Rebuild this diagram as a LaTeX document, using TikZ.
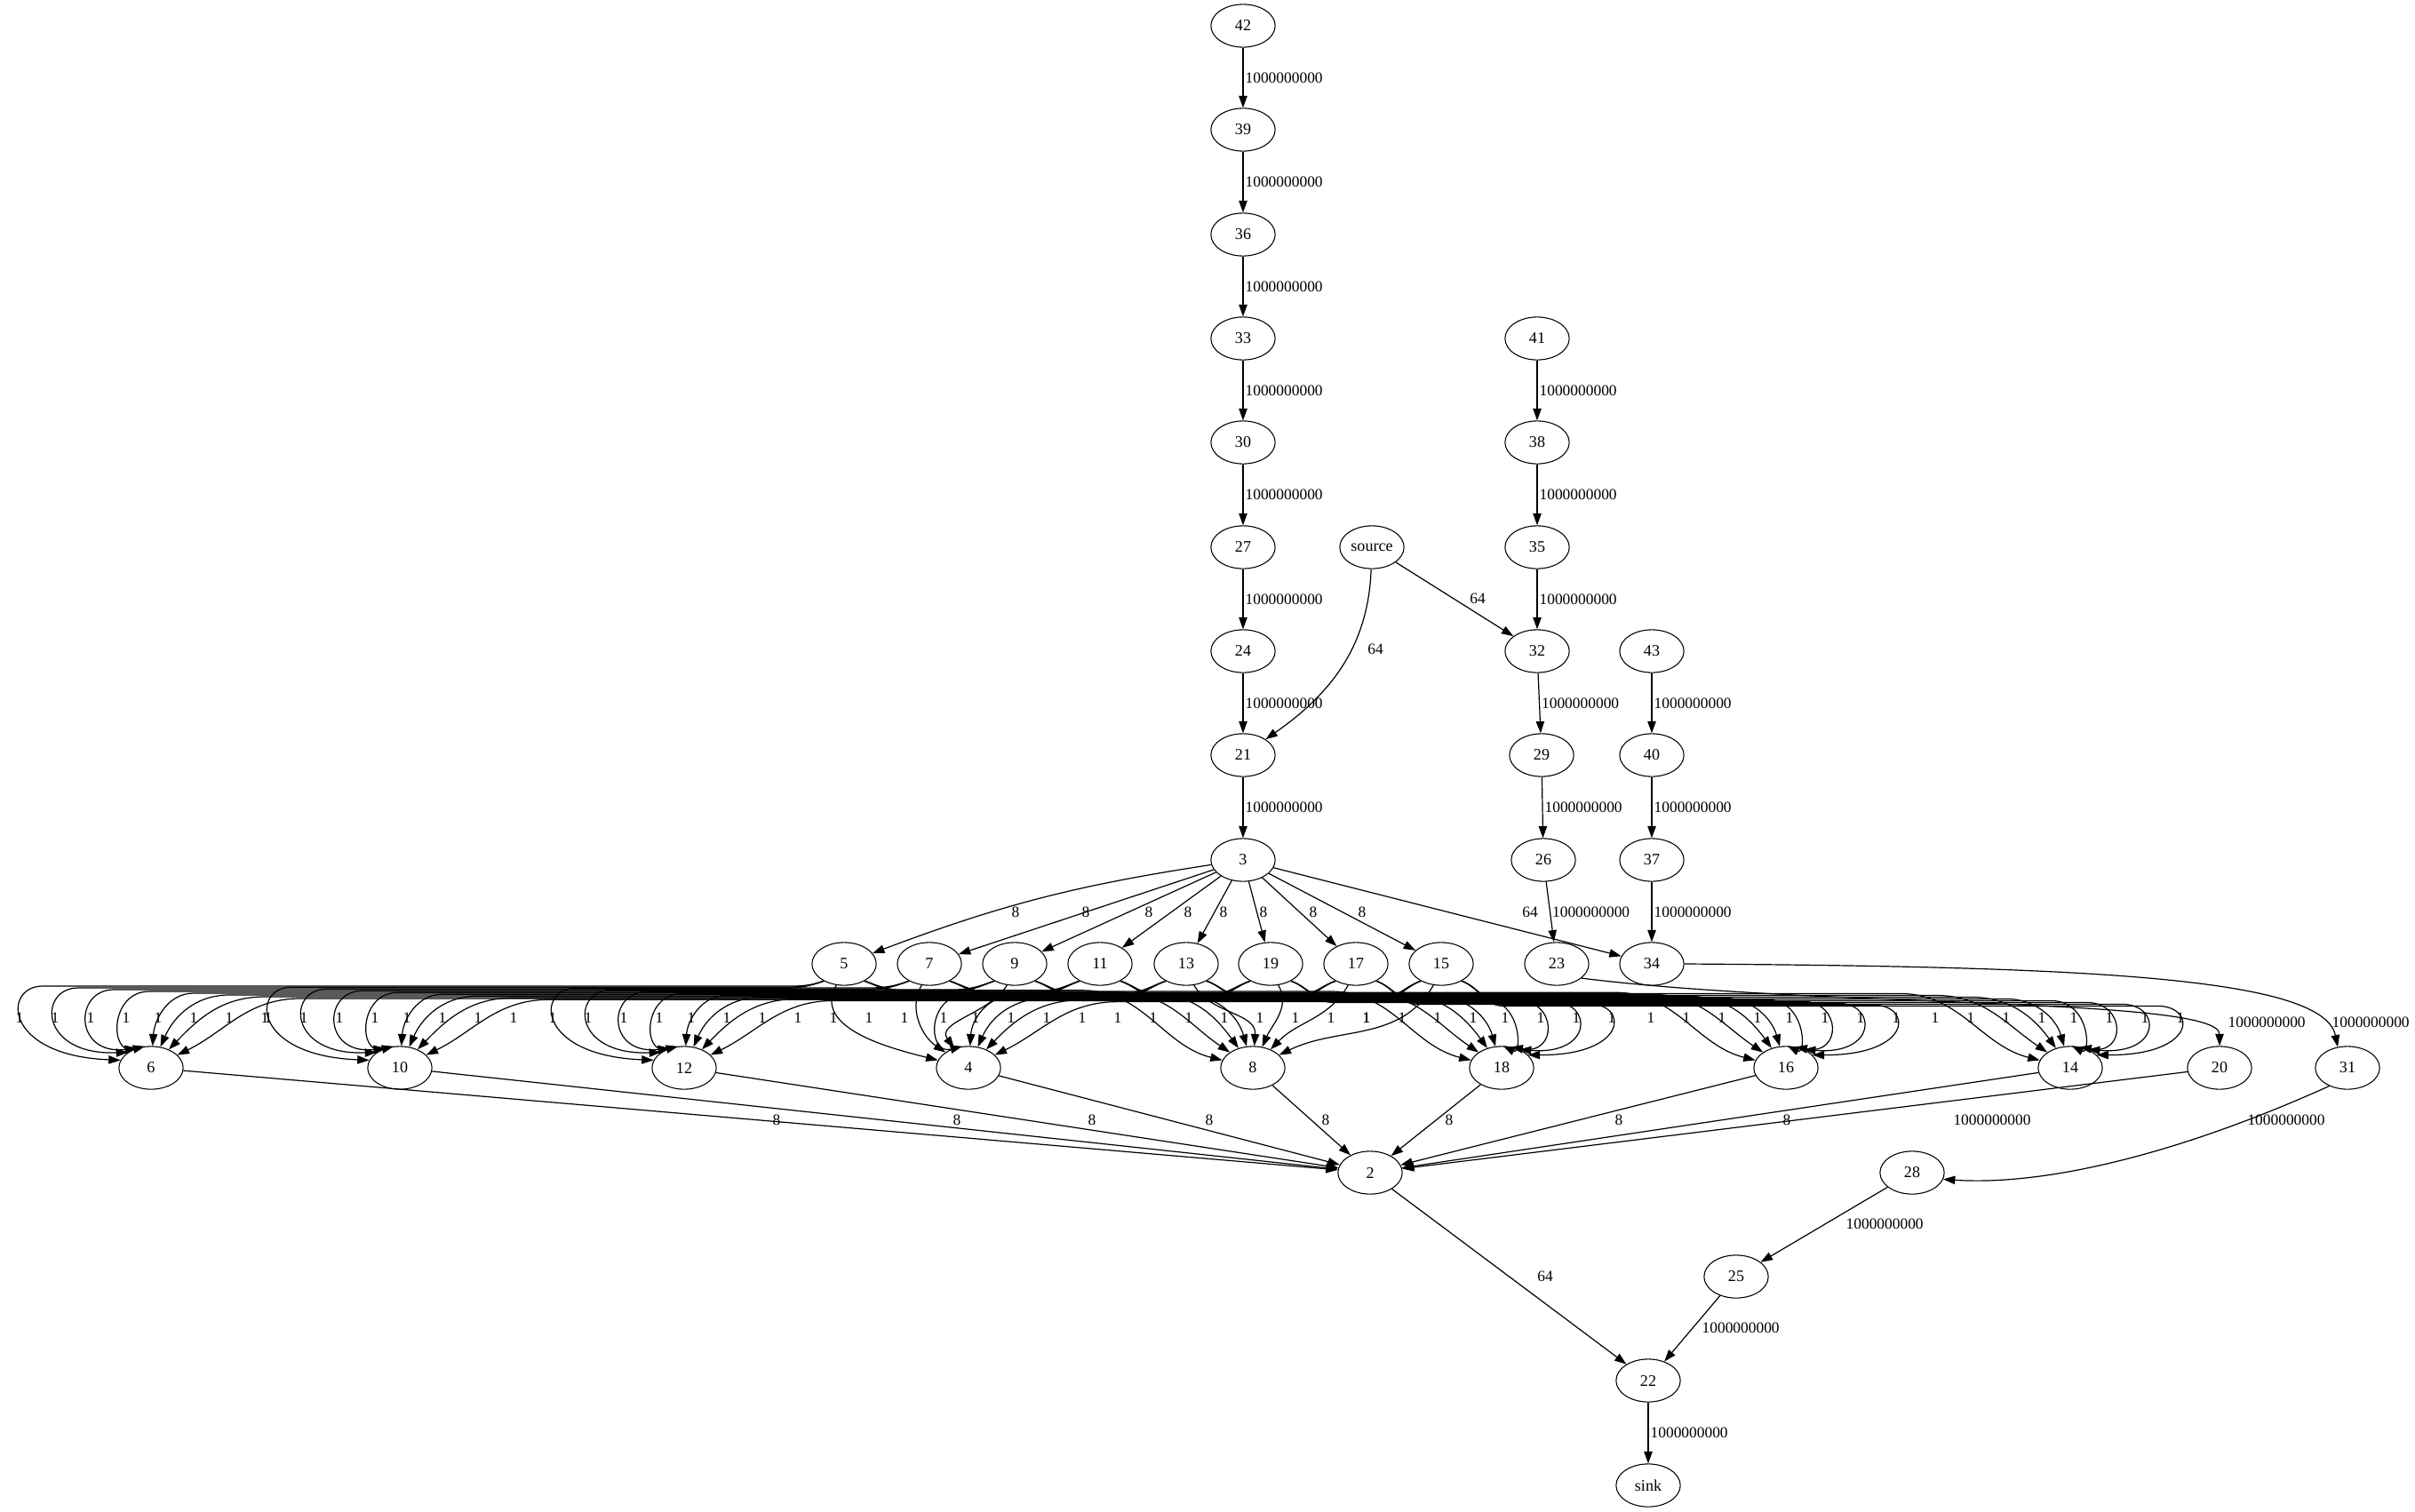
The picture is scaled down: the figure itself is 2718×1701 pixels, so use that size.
\documentclass[tikz,border=0pt]{standalone}
\usepackage{fontspec}
\setmainfont{Liberation Serif}
\usetikzlibrary{shapes.geometric,arrows.meta}

\tikzset{
  vtx/.style={draw,line width=0.8pt,ellipse,minimum width=54pt,minimum height=36pt,inner sep=0pt,font=\fontsize{13.5}{15}\selectfont},
  flow/.style={line width=0.9pt,-{Triangle[length=10pt,width=7pt]}},
  wt/.style={inner sep=1.5pt,font=\fontsize{13}{15}\selectfont}
}

\begin{document}
\begin{tikzpicture}[x=0.02625cm,y=0.02625cm]
\useasboundingbox (0,0) rectangle (2718,-1701);
% nodes : name/x/y (y counted downwards)
\foreach \n/\x/\y in {42/1399/29,39/1399/146,36/1399/264,33/1399/381,30/1399/498,27/1399/616,24/1399/733,21/1399/850,3/1399/968,
  source/1544/616,41/1730/381,38/1730/498,35/1730/616,32/1730/733,29/1735/850,26/1737/968,23/1752/1085,
  43/1859/733,40/1859/850,37/1859/968,34/1859/1085,
  5/950/1085,7/1046/1085,9/1142/1085,11/1238/1085,13/1335/1085,19/1430/1085,17/1526/1085,15/1622/1085,
  6/170/1202,10/450/1202,12/770/1202,4/1090/1202,8/1410/1202,18/1690/1202,16/2010/1202,14/2330/1202,20/2498/1202,31/2642/1202,
  2/1542/1320,28/2152/1320,25/1954/1437,22/1855/1554,sink/1855/1672}
  \node[vtx] (n\n) at (\x,-\y) {\n};

% straight chains
\foreach \u/\v in {42/39,39/36,36/33,33/30,30/27,27/24,24/21,21/3,41/38,38/35,35/32,32/29,29/26,26/23,43/40,40/37,37/34,22/sink}
  \draw[flow] (n\u) -- (n\v) node[wt,midway,right] {1000000000};

\draw[flow] (nsource) to[out=-92,in=35] (n21) node[wt] at (1548,-731) {64};
\draw[flow] (nsource) -- (n32) node[wt] at (1663,-674) {64};

\draw[flow] (n3) to[bend right=6] (n5) node[wt] at (1143,-1027) {8};
\foreach \v/\lx in {7/1222,9/1293,11/1337,13/1377,19/1422,17/1478,15/1533}
  \draw[flow] (n3) -- (n\v) node[wt] at (\lx,-1027) {8};
\draw[flow] (n3) -- (n34) node[wt] at (1722,-1027) {64};

% the 8 x 8 block of unit edges
\foreach \t/\tn/\tx in {0/5/950,1/7/1046,2/9/1142,3/11/1238,4/13/1335,5/19/1430,6/17/1526,7/15/1622}{
  \foreach \b/\bn/\bx in {0/6/170,1/10/450,2/12/770,3/4/1090,4/8/1410,5/18/1690,6/16/2010,7/14/2330}{
    \pgfmathtruncatemacro\off{-152+40*\t}
    \pgfmathtruncatemacro\ax{\bx+\off}
    \pgfmathtruncatemacro\dir{\ax>\tx ? 1 : -1}
    \pgfmathtruncatemacro\side{\off>0 ? 1 : -1}
    \pgfmathtruncatemacro\gap{abs(\ax-\tx)}
    \pgfmathsetmacro\yb{-(1110+2*\t+1.2*\b)}
    \pgfmathtruncatemacro\angB{90-0.5*\off}
    \ifnum\gap<130\relax
      \pgfmathtruncatemacro\angT{270+20*\dir}
      \pgfmathtruncatemacro\oT{270+30*\dir}
      \draw[flow] (n\tn.\angT) to[out=\oT,in=\angB] (n\bn.\angB) node[wt] at (\ax,-1146) {1};
    \else
      \pgfmathtruncatemacro\angT{270+50*\dir}
      \pgfmathtruncatemacro\oT{270+70*\dir}
      \pgfmathtruncatemacro\iT{90+90*\dir}
      \pgfmathtruncatemacro\oB{90-90*\dir}
      \ifnum\dir=\side\relax
        \draw[flow] (n\tn.\angT) to[out=\oT,in=\iT] ({\tx+70*\dir},\yb) -- ({\ax-30*\dir},\yb)
          .. controls ({\ax+15*\dir},\yb) and ({\ax+15*\dir},-1188) .. (n\bn.\angB) node[wt] at ({\ax-4*\dir},-1146) {1};
      \else
        \draw[flow] (n\tn.\angT) to[out=\oT,in=\iT] ({\tx+70*\dir},\yb) -- ({\ax-40*\dir},\yb)
          to[out=\oB,in=\angB] (n\bn.\angB) node[wt] at (\ax,-1146) {1};
      \fi
    \fi
  }
}

\draw[flow] (n23.330) .. controls (2050,-1135) and (2498,-1122) .. (n20.north) node[wt,anchor=west] at (2505,-1151) {1000000000};
\draw[flow] (n34.east) .. controls (2350,-1088) and (2615,-1100) .. (n31.115) node[wt,anchor=west] at (2622,-1151) {1000000000};

% into 2 and down to the sink
\foreach \u/\lx in {6/874,10/1077,12/1229,4/1361,8/1492,18/1631,16/1822,14/2011}
  \draw[flow] (n\u) -- (n2) node[wt] at (\lx,-1261) {8};
\draw[flow] (n20) -- (n2) node[wt] at (2242,-1261) {1000000000};
\draw[flow] (n31.225) .. controls (2450,-1300) and (2300,-1335) .. (n28.348) node[wt] at (2573,-1261) {1000000000};
\draw[flow] (n28) -- (n25) node[wt,anchor=west] at (2075,-1378) {1000000000};
\draw[flow] (n25) -- (n22) node[wt,anchor=west] at (1913,-1495) {1000000000};
\draw[flow] (n2) -- (n22) node[wt] at (1739,-1437) {64};
\end{tikzpicture}
\end{document}
